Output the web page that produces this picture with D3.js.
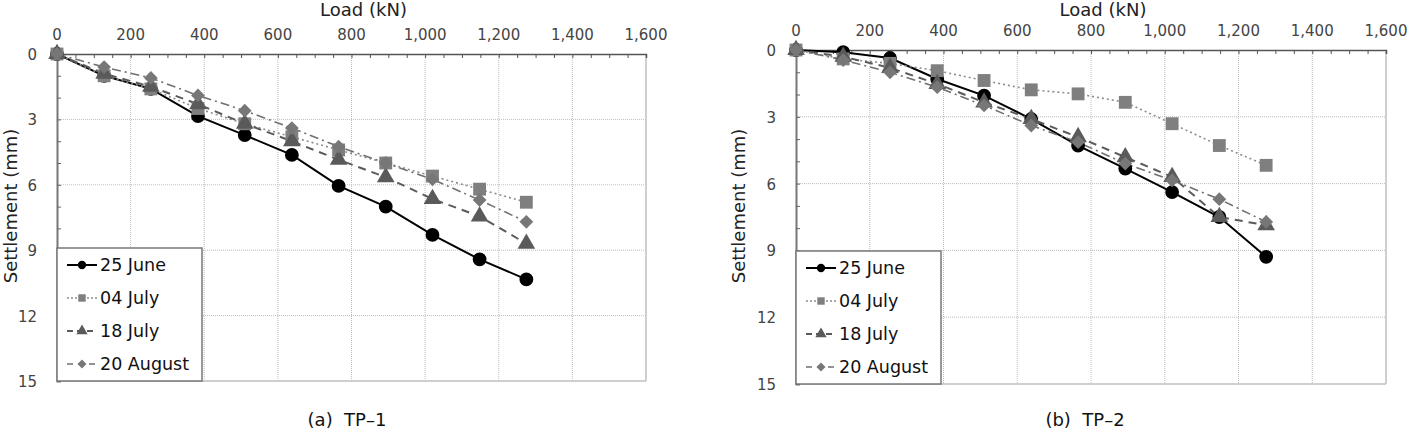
<!DOCTYPE html>
<html lang="en">
<head>
<meta charset="UTF-8">
<title>Load - Settlement TP-1 / TP-2</title>
<script src="https://d3js.org/d3.v7.min.js"></script>
<style>
    body { margin: 0; background: #fff; font-family: 'DejaVu Sans', sans-serif; }
    .tick-label { font-size: 15px; fill: #444; }
    .axis-title { font-size: 18px; fill: #222; }
    .legend-text { font-size: 17.5px; fill: #111; }
    .caption { font-size: 18px; fill: #111; }
</style>
</head>
<body>
<div id="chart"></div>
<script>
// loads (kN) at each step
const loads = [0, 128, 255, 383, 510, 638, 765, 893, 1020, 1148, 1275];
const seriesNames = ["25 June", "04 July", "18 July", "20 August"];
const xTicks = [0, 200, 400, 600, 800, 1000, 1200, 1400, 1600];
const yTicks = [0, 3, 6, 9, 12, 15];

// settlement (mm), TP-1
const tp1June25 = [0, 1.0, 1.6, 2.85, 3.72, 4.63, 6.05, 7.0, 8.3, 9.42, 10.34];
const tp1July04 = [0, 1.0, 1.6, 2.5, 3.2, 3.8, 4.4, 5.0, 5.6, 6.2, 6.8];
const tp1July18 = [0, 0.9, 1.5, 2.3, 3.2, 4.0, 4.85, 5.65, 6.65, 7.45, 8.7];
const tp1Aug20 = [0, 0.6, 1.1, 1.9, 2.6, 3.4, 4.25, 5.0, 5.75, 6.7, 7.7];

// settlement (mm), TP-2
const tp2June25 = [0, 0.1, 0.36, 1.3, 2.05, 3.1, 4.29, 5.33, 6.38, 7.5, 9.29];
const tp2July04 = [0, 0.4, 0.6, 0.93, 1.37, 1.79, 1.97, 2.35, 3.31, 4.29, 5.18];
const tp2July18 = [0, 0.3, 0.8, 1.52, 2.35, 3.1, 3.91, 4.81, 5.7, 7.5, 7.87];
const tp2Aug20 = [0, 0.45, 1.0, 1.67, 2.49, 3.39, 4.14, 5.1, 5.85, 6.7, 7.72];

const styles = [
    { color: "#000", marker: d3.symbolCircle, size: 150, rot: 0, dash: null, legDash: null, width: 2, mcolor: "#000" },
    { color: "#8c8c8c", marker: d3.symbolSquare, size: 165, rot: 0, dash: "2,3", legDash: "2,2", width: 1.6, mcolor: "#7f7f7f" },
    { color: "#5a5a5a", marker: d3.symbolTriangle, size: 135, rot: 0, dash: "8,6", legDash: "6,4", width: 2, mcolor: "#5a5a5a" },
    { color: "#707070", marker: d3.symbolSquare, size: 95, rot: 45, dash: "9,4,2,4", legDash: "6,5", width: 1.6, mcolor: "#777" }
];

const W = 1408, H = 430;
const svg = d3.select("#chart").append("svg").attr("width", W).attr("height", H);

function drawPanel(opt) {
    const g = svg.append("g");
    const x = d3.scaleLinear().domain([0, 1600]).range([opt.left, opt.right]);
    const y = d3.scaleLinear().domain([0, 15]).range([opt.top, opt.bottom]);

    // grid
    g.selectAll(".gx").data(xTicks.slice(1)).enter().append("line")
        .attr("x1", d => x(d)).attr("x2", d => x(d))
        .attr("y1", opt.top).attr("y2", opt.bottom)
        .attr("stroke", "#bdbdbd").attr("stroke-dasharray", "1,1");
    g.selectAll(".gy").data(yTicks.slice(1)).enter().append("line")
        .attr("y1", d => y(d)).attr("y2", d => y(d))
        .attr("x1", opt.left).attr("x2", opt.right)
        .attr("stroke", "#bdbdbd").attr("stroke-dasharray", "1,1");

    // frame: right & bottom light
    g.append("line").attr("x1", opt.right).attr("x2", opt.right).attr("y1", opt.top).attr("y2", opt.bottom)
        .attr("stroke", "#c4c4c4").attr("stroke-width", 1.5);
    g.append("line").attr("x1", opt.left).attr("x2", opt.right).attr("y1", opt.bottom).attr("y2", opt.bottom)
        .attr("stroke", "#c4c4c4").attr("stroke-width", 1.5);

    // top axis
    const xAxis = d3.axisTop(x).tickValues(d3.range(0, 1601, 50)).tickSize(-4).tickFormat("");
    const gxa = g.append("g").attr("transform", `translate(0,${opt.top})`).call(xAxis);
    gxa.select(".domain").attr("stroke", "#555").attr("stroke-width", 1.5);
    gxa.selectAll(".tick line").attr("stroke", "#555");
    g.selectAll(".xl").data(xTicks).enter().append("text")
        .attr("class", "tick-label")
        .attr("x", d => x(d)).attr("y", opt.top - 14)
        .attr("text-anchor", "middle")
        .text(d => d3.format(",")(d));

    // left axis
    const yAxis = d3.axisLeft(y).tickValues(d3.range(0, 16, 1)).tickSize(-4).tickFormat("");
    const gya = g.append("g").attr("transform", `translate(${opt.left},0)`).call(yAxis);
    gya.select(".domain").attr("stroke", "#777").attr("stroke-width", 2);
    gya.selectAll(".tick line").attr("stroke", "#666");
    g.selectAll(".yl").data(yTicks).enter().append("text")
        .attr("class", "tick-label")
        .attr("x", opt.left - 20).attr("y", d => y(d) + 6)
        .attr("text-anchor", "end")
        .text(d => d);

    // titles
    g.append("text").attr("class", "axis-title")
        .attr("x", (opt.left + opt.right) / 2 + 12).attr("y", 16)
        .attr("text-anchor", "middle").text("Load (kN)");
    g.append("text").attr("class", "axis-title")
        .attr("transform", `translate(${opt.yTitleX},${opt.yTitleY}) rotate(-90)`)
        .attr("text-anchor", "middle").text("Settlement (mm)");
    g.append("text").attr("class", "caption")
        .attr("x", opt.captionX).attr("y", 426)
        .attr("text-anchor", "middle")
        .attr("xml:space", "preserve")
        .text(opt.caption);

    // series
    const line = d3.line().x((d, i) => x(loads[i])).y(d => y(d));
    opt.series.forEach((vals, si) => {
        const st = styles[si];
        g.append("path").datum(vals)
            .attr("fill", "none").attr("stroke", st.color)
            .attr("stroke-width", st.width)
            .attr("stroke-dasharray", st.dash)
            .attr("d", line);
    });
    opt.series.forEach((vals, si) => {
        const st = styles[si];
        g.selectAll(null).data(vals).enter().append("path")
            .attr("transform", (d, i) => `translate(${x(loads[i])},${y(d)}) rotate(${st.rot})`)
            .attr("d", d3.symbol().type(st.marker).size(st.size))
            .attr("fill", st.mcolor);
    });

    // legend
    const lx = opt.left, lh = 133, lw = 145, ly = opt.bottom - lh;
    const lg = g.append("g");
    lg.append("rect").attr("x", lx).attr("y", ly).attr("width", lw).attr("height", lh)
        .attr("fill", "#fff").attr("stroke", "#777").attr("stroke-width", 1.5);
    seriesNames.forEach((name, si) => {
        const st = styles[si];
        const cy = ly + 17 + si * 33;
        lg.append("line").attr("x1", lx + 10).attr("x2", lx + 40).attr("y1", cy).attr("y2", cy)
            .attr("stroke", st.color).attr("stroke-width", st.width)
            .attr("stroke-dasharray", st.legDash);
        lg.append("path").attr("transform", `translate(${lx + 25},${cy}) rotate(${st.rot})`)
            .attr("d", d3.symbol().type(st.marker).size(si === 3 ? 40 : 55))
            .attr("fill", st.mcolor);
        lg.append("text").attr("class", "legend-text")
            .attr("x", lx + 43).attr("y", cy + 6).text(name);
    });
}

drawPanel({
    left: 57, right: 646, top: 54, bottom: 381, yTitleX: 17, yTitleY: 206, captionX: 347, caption: "(a)  TP\u20131",
    series: [tp1June25, tp1July04, tp1July18, tp1Aug20]
});
drawPanel({
    left: 796, right: 1386, top: 50, bottom: 384, yTitleX: 745, yTitleY: 206, captionX: 1085, caption: "(b)  TP\u20132",
    series: [tp2June25, tp2July04, tp2July18, tp2Aug20]
});
</script>
</body>
</html>
